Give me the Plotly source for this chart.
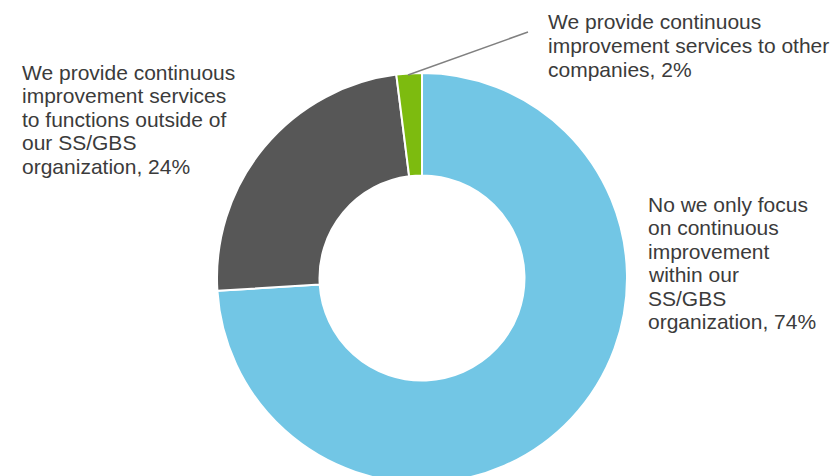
import plotly.graph_objects as go

categories = [
    "No we only focus on continuous improvement within our SS/GBS organization",
    "We provide continuous improvement services to functions outside of our SS/GBS organization",
    "We provide continuous improvement services to other companies",
]
values = [74, 24, 2]
colors = ["#72C6E5", "#575757", "#7DBB0F"]

label_lines = [
    ["No we only focus", "on continuous", "improvement", "within our", "SS/GBS", "organization, 74%"],
    ["We provide continuous", "improvement services", "to functions outside of", "our SS/GBS", "organization, 24%"],
    ["We provide continuous", "improvement services to other", "companies, 2%"],
]
# label anchor (left x px, first-line center y px)
label_pos = [(646, 204), (20, 72), (546, 22)]

W, H = 835, 490
cx, cy, R = 422, 278, 205
line_gap = 23.5

fig = go.Figure(go.Pie(
    labels=categories,
    values=values,
    marker=dict(colors=colors, line=dict(color="white", width=2)),
    hole=0.5,
    sort=False,
    direction="clockwise",
    rotation=0,
    textinfo="none",
    hoverinfo="label+percent",
    showlegend=False,
    domain=dict(x=[(cx - R) / W, (cx + R) / W], y=[1 - (cy + R) / H, 1 - (cy - R) / H]),
))

annotations = []
for lines, (lx, ly) in zip(label_lines, label_pos):
    for i, t in enumerate(lines):
        annotations.append(dict(
            text=t, x=lx / W, y=1 - (ly + i * line_gap) / H,
            xref="paper", yref="paper", xanchor="left", yanchor="middle",
            showarrow=False, font=dict(family="Liberation Sans, Arial, sans-serif", size=21, color="#3b3b3b"),
        ))

fig.update_layout(
    width=W, height=H,
    margin=dict(l=0, r=0, t=0, b=0),
    paper_bgcolor="white", plot_bgcolor="white",
    annotations=annotations,
    shapes=[dict(type="line", xref="paper", yref="paper",
                 x0=408 / W, y0=1 - 75 / H, x1=528 / W, y1=1 - 32 / H,
                 line=dict(color="#808080", width=1.5))],
)

fig.write_html("out.html", config={"displayModeBar": False},
               post_script="document.documentElement.style.overflow='hidden';document.body.style.overflow='hidden';document.body.style.margin='0';")
